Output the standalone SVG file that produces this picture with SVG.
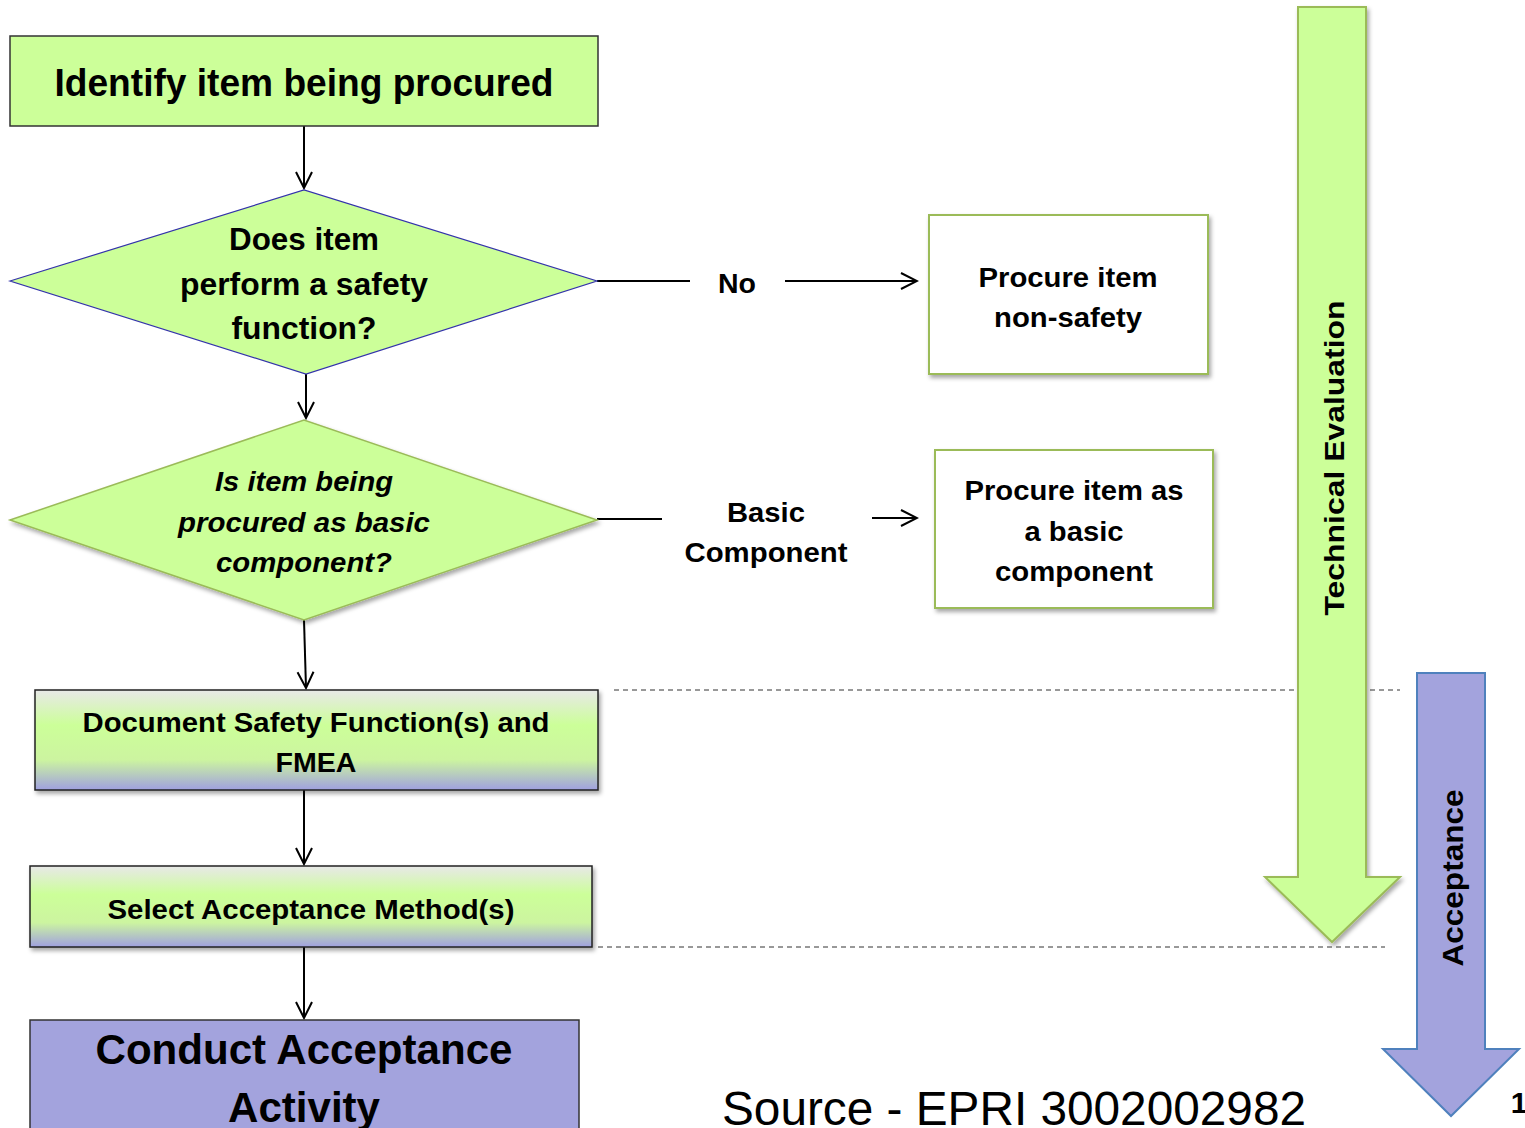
<svg xmlns="http://www.w3.org/2000/svg" width="1525" height="1128" viewBox="0 0 1525 1128">
<defs>
<style>
text{font-family:"Liberation Sans",Arial,sans-serif;font-weight:bold;fill:#000;text-anchor:middle}
.conn{stroke:#000;stroke-width:2;fill:none}
.dash{stroke:#333;stroke-width:1;stroke-dasharray:5,4;fill:none}
</style>
<marker id="arr" viewBox="0 0 20 20" refX="18" refY="10" markerWidth="20" markerHeight="20" markerUnits="userSpaceOnUse" orient="auto">
<path d="M2,2 L18,10 L2,18" fill="none" stroke="#000" stroke-width="2"/>
</marker>
<linearGradient id="grad" x1="0" y1="0" x2="0" y2="1">
<stop offset="0" stop-color="#e8e8e8"/>
<stop offset="0.35" stop-color="#ccff99"/>
<stop offset="0.7" stop-color="#ccf4a0"/>
<stop offset="1" stop-color="#a0a0e0"/>
</linearGradient>
<filter id="sh" x="-10%" y="-10%" width="125%" height="125%">
<feDropShadow dx="2" dy="3" stdDeviation="2" flood-color="#000" flood-opacity="0.35"/>
</filter>
</defs>
<rect width="1525" height="1128" fill="#fff"/>

<g id="dashes">
<line class="dash" x1="614" y1="690" x2="1400" y2="690"/>
<line class="dash" x1="598" y1="947" x2="1385" y2="947"/>
</g>

<g id="tech-eval">
<path d="M1298,7 H1366 V877 H1400 L1332,942 L1265,877 H1298 Z" fill="#ccff99" stroke="#9bbb59" stroke-width="2" filter="url(#sh)"/>
<text transform="translate(1344,458) rotate(-90)" font-size="28" textLength="315" lengthAdjust="spacingAndGlyphs">Technical Evaluation</text>
</g>

<g id="acceptance">
<path d="M1417,673 H1485 V1049 H1519 L1451,1116 L1383,1049 H1417 Z" fill="#a3a3dd" stroke="#4f81bd" stroke-width="2"/>
<text transform="translate(1463,878) rotate(-90)" font-size="29" textLength="177" lengthAdjust="spacingAndGlyphs">Acceptance</text>
</g>

<g id="connectors">
<line class="conn" x1="304" y1="126" x2="304" y2="188" marker-end="url(#arr)"/>
<line class="conn" x1="306" y1="374" x2="306" y2="418" marker-end="url(#arr)"/>
<line class="conn" x1="304" y1="620" x2="306" y2="688" marker-end="url(#arr)"/>
<line class="conn" x1="304" y1="790" x2="304" y2="864" marker-end="url(#arr)"/>
<line class="conn" x1="304" y1="947" x2="304" y2="1018" marker-end="url(#arr)"/>
<line class="conn" x1="597" y1="281" x2="690" y2="281"/>
<line class="conn" x1="785" y1="281" x2="917" y2="281" marker-end="url(#arr)"/>
<line class="conn" x1="597" y1="519" x2="662" y2="519"/>
<line class="conn" x1="872" y1="518" x2="917" y2="518" marker-end="url(#arr)"/>
<text x="737" y="293" font-size="27" textLength="38" lengthAdjust="spacingAndGlyphs">No</text>
<text x="766" y="522" font-size="27" textLength="78" lengthAdjust="spacingAndGlyphs">Basic</text>
<text x="766" y="562" font-size="27" textLength="163" lengthAdjust="spacingAndGlyphs">Component</text>
</g>

<g id="identify">
<rect x="10" y="36" width="588" height="90" fill="#ccff99" stroke="#333" stroke-width="1.5"/>
<text x="304" y="96" font-size="38" textLength="499" lengthAdjust="spacingAndGlyphs">Identify item being procured</text>
</g>

<g id="safety-q">
<polygon points="10,281 304,190 597,281 306,374" fill="#ccff99" stroke="#3333aa" stroke-width="1.2"/>
<text x="304" y="250" font-size="31" textLength="150" lengthAdjust="spacingAndGlyphs">Does item</text>
<text x="304" y="295" font-size="31" textLength="248" lengthAdjust="spacingAndGlyphs">perform a safety</text>
<text x="304" y="339" font-size="31" textLength="145" lengthAdjust="spacingAndGlyphs">function?</text>
</g>

<g id="basic-q">
<polygon points="10,520 304,420 597,520 304,620" fill="#ccff99" stroke="#9bbb59" stroke-width="1.5" filter="url(#sh)"/>
<text x="304" y="491" font-size="28" font-style="italic" textLength="178" lengthAdjust="spacingAndGlyphs">Is item being</text>
<text x="304" y="532" font-size="28" font-style="italic" textLength="252" lengthAdjust="spacingAndGlyphs">procured as basic</text>
<text x="304" y="572" font-size="28" font-style="italic" textLength="176" lengthAdjust="spacingAndGlyphs">component?</text>
</g>

<g id="non-safety">
<rect x="929" y="215" width="279" height="159" fill="#fff" stroke="#9bbb59" stroke-width="2" filter="url(#sh)"/>
<text x="1068" y="287" font-size="27" textLength="179" lengthAdjust="spacingAndGlyphs">Procure item</text>
<text x="1068" y="327" font-size="27" textLength="148" lengthAdjust="spacingAndGlyphs">non-safety</text>
</g>

<g id="basic-comp">
<rect x="935" y="450" width="278" height="158" fill="#fff" stroke="#9bbb59" stroke-width="2" filter="url(#sh)"/>
<text x="1074" y="500" font-size="27" textLength="219" lengthAdjust="spacingAndGlyphs">Procure item as</text>
<text x="1074" y="541" font-size="27" textLength="99" lengthAdjust="spacingAndGlyphs">a basic</text>
<text x="1074" y="581" font-size="27" textLength="158" lengthAdjust="spacingAndGlyphs">component</text>
</g>

<g id="document">
<rect x="35" y="690" width="563" height="100" fill="url(#grad)" stroke="#222" stroke-width="1.5" filter="url(#sh)"/>
<text x="316" y="732" font-size="27" textLength="467" lengthAdjust="spacingAndGlyphs">Document Safety Function(s) and</text>
<text x="316" y="772" font-size="27" textLength="81" lengthAdjust="spacingAndGlyphs">FMEA</text>
</g>

<g id="select">
<rect x="30" y="866" width="562" height="81" fill="url(#grad)" stroke="#222" stroke-width="1.5" filter="url(#sh)"/>
<text x="311" y="919" font-size="27" textLength="407" lengthAdjust="spacingAndGlyphs">Select Acceptance Method(s)</text>
</g>

<g id="conduct">
<rect x="30" y="1020" width="549" height="120" fill="#a3a3dd" stroke="#333" stroke-width="1.5"/>
<text x="304" y="1064" font-size="42" textLength="417" lengthAdjust="spacingAndGlyphs">Conduct Acceptance</text>
<text x="304" y="1122" font-size="42" textLength="152" lengthAdjust="spacingAndGlyphs">Activity</text>
</g>

<text x="1014" y="1125" font-size="48" font-weight="normal" textLength="584" lengthAdjust="spacingAndGlyphs" style="font-weight:normal">Source - EPRI 3002002982</text>
<text x="1519" y="1113" font-size="30">1</text>
</svg>
